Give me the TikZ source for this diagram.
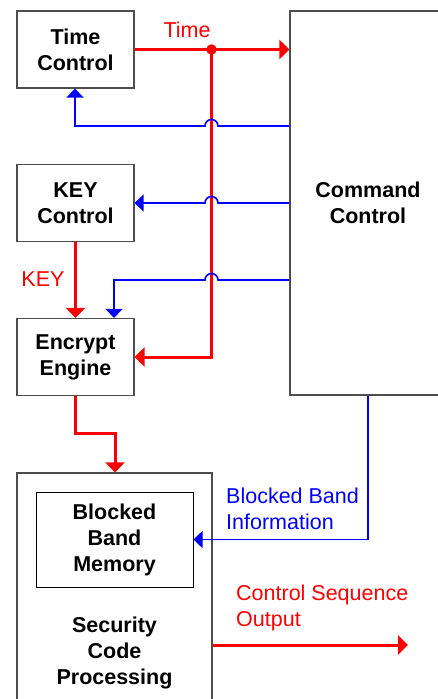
\documentclass[tikz,border=0pt]{standalone}
\usepackage{fontspec}
\setmainfont{Liberation Sans}
\usetikzlibrary{arrows.meta}
\definecolor{boxline}{HTML}{4D4D4D}
\definecolor{sigred}{HTML}{FF0000}
\definecolor{sigblue}{HTML}{0000FF}
\tikzset{
  blk/.style={draw=boxline, line width=1.2pt, align=center, inner sep=0pt,
    font=\fontsize{21.5}{26}\selectfont\bfseries,
    minimum width=117pt, minimum height=77pt},
  redarr/.style={draw=sigred, line width=3pt, -{Triangle[length=10pt,width=19pt]}},
  bluearr/.style={draw=sigblue, line width=1.6pt, -{Triangle[length=9pt,width=17pt]}},
  redlab/.style={text=sigred, font=\fontsize{21.5}{26}\selectfont, align=left, inner sep=0pt},
  bluelab/.style={text=sigblue, font=\fontsize{21.5}{26}\selectfont, align=left, inner sep=0pt},
  jn/.style={circle, fill=sigred, inner sep=0pt, minimum size=10.5pt},
}

\begin{document}
\begin{tikzpicture}[x=1pt,y=-1pt]
  \useasboundingbox (0,0) rectangle (438,699);
  \def\busx{211.5}
  \def\hop{6.5}

  % blocks
  \node[blk] (tc) at (75.5,49.5) {Time\\Control};
  \node[blk] (kc) at (75.5,203) {KEY\\Control};
  \node[blk] (ee) at (75.5,357) {Encrypt\\Engine};
  \node[blk, minimum width=156pt, minimum height=384pt] (cc) at (368,203) {Command\\Control};
  \node[blk, minimum width=195pt, minimum height=237pt] (scp) at (114.5,591.5) {};
  \node[blk, draw=black, line width=1pt, minimum width=157pt, minimum height=95pt] (bbm) at (114.5,539.5) {Blocked\\Band\\Memory};
  \node[blk, draw=none] (scptext) at (114.5,653) {Security\\Code\\Processing};

  % levels of the command lines
  \coordinate (lvA) at (75,126);
  \coordinate (lvB) at (134,203);
  \coordinate (lvC) at (114,280);
  \coordinate (bend) at (115,433);
  \coordinate (outend) at (408,645);

  % time bus
  \draw[redarr] (tc.east) -- (cc.west |- tc.east);
  \draw[redarr] (\busx,49.5) -- (\busx,357) -- (ee.east);
  \node[jn] (tap) at (\busx,49.5) {};
  \node[redlab] (timelab) at (187,30) {Time};

  % command lines hopping over the bus
  \draw[bluearr] (cc.west |- lvA) -- (\busx+\hop,126) arc[start angle=0,end angle=180,radius=\hop pt]
    -- (lvA) -- (tc.south -| lvA);
  \draw[bluearr] (cc.west |- lvB) -- (\busx+\hop,203) arc[start angle=0,end angle=180,radius=\hop pt]
    -- (kc.east);
  \draw[bluearr] (cc.west |- lvC) -- (\busx+\hop,280) arc[start angle=0,end angle=180,radius=\hop pt]
    -- (lvC) -- (ee.north -| lvC);

  % key path
  \draw[redarr] (kc.south) -- (ee.north);
  \node[redlab] (keylab) at (43,279) {KEY};

  % engine into processing
  \draw[redarr] (ee.south) |- (bend) -- (scp.north -| bend);

  % blocked band information
  \draw[bluearr] (cc.south) |- (bbm.east);
  \node[bluelab, anchor=north west] (infolab) at (226,487.5) {Blocked Band\\Information};

  % output
  \draw[redarr] (scp.east |- outend) -- (outend);
  \node[redlab, anchor=north west] (outlab) at (236,584.5) {Control Sequence\\Output};
\end{tikzpicture}
\end{document}
